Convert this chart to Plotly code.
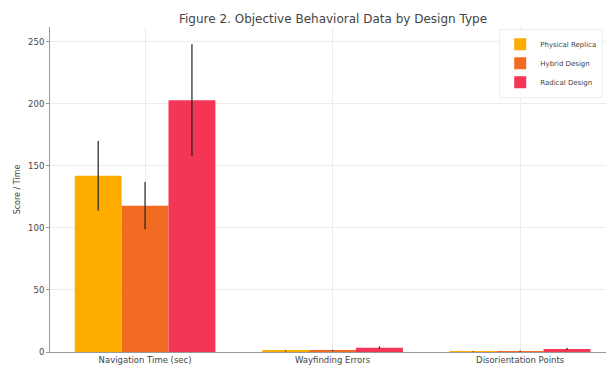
import plotly.graph_objects as go

categories = ["Navigation Time (sec)", "Wayfinding Errors", "Disorientation Points"]
series_names = ["Physical Replica", "Hybrid Design", "Radical Design"]
physical_vals = [142, 1.0, 0.5]
physical_err = [28, 0.5, 0.3]
hybrid_vals = [118, 1.2, 0.8]
hybrid_err = [19, 0.5, 0.4]
radical_vals = [203, 3.5, 2.5]
radical_err = [45, 1.0, 0.8]
colors = ["#FFAC00", "#F26B22", "#F53555"]
y_ticks = [0, 50, 100, 150, 200, 250]

fig = go.Figure()
for name, vals, errs, col in zip(series_names,
                                 [physical_vals, hybrid_vals, radical_vals],
                                 [physical_err, hybrid_err, radical_err],
                                 colors):
    fig.add_trace(go.Bar(
        x=list(range(len(categories))), y=vals, name=name,
        marker=dict(color=col, line=dict(width=0)),
        error_y=dict(type="data", array=errs, visible=True, color="#222222",
                     thickness=1.2, width=0),
    ))

fig.update_layout(
    width=606, height=367,
    margin=dict(l=50, r=0, t=27, b=15, autoexpand=False),
    paper_bgcolor="white", plot_bgcolor="white",
    barmode="group", bargap=0.25, bargroupgap=0,
    font=dict(family="DejaVu Sans", color="#444444", size=9),
    title=dict(text="Figure 2. Objective Behavioral Data by Design Type",
               x=0.509, xref="paper", xanchor="center", y=0.96, yref="container",
               font=dict(size=12, color="#444444")),
    showlegend=True,
    legend=dict(x=0.995, y=0.995, xanchor="right", yanchor="top",
                bgcolor="rgba(255,255,255,0.9)", bordercolor="#eeeeee", borderwidth=1,
                font=dict(size=7, color="#444444"), tracegroupgap=0,
                itemwidth=30),
    xaxis=dict(range=[-0.507, 2.458], tickmode="array",
               tickvals=list(range(len(categories))), ticktext=categories,
               showgrid=True, gridcolor="#ececec", gridwidth=1,
               showline=True, linecolor="#999999", linewidth=1,
               ticks="", tickfont=dict(size=8.5, color="#444444"),
               zeroline=False, automargin=False),
    yaxis=dict(range=[0, 262], tickvals=y_ticks,
               showgrid=True, gridcolor="#ececec", gridwidth=1,
               showline=True, linecolor="#999999", linewidth=1,
               ticks="outside", ticklen=3, tickcolor="#999999",
               tickfont=dict(size=8.5, color="#444444"),
               title=dict(text="Score / Time", font=dict(size=8, color="#444444"), standoff=6),
               zeroline=False, automargin=False),
)

fig.write_html("out.html")
